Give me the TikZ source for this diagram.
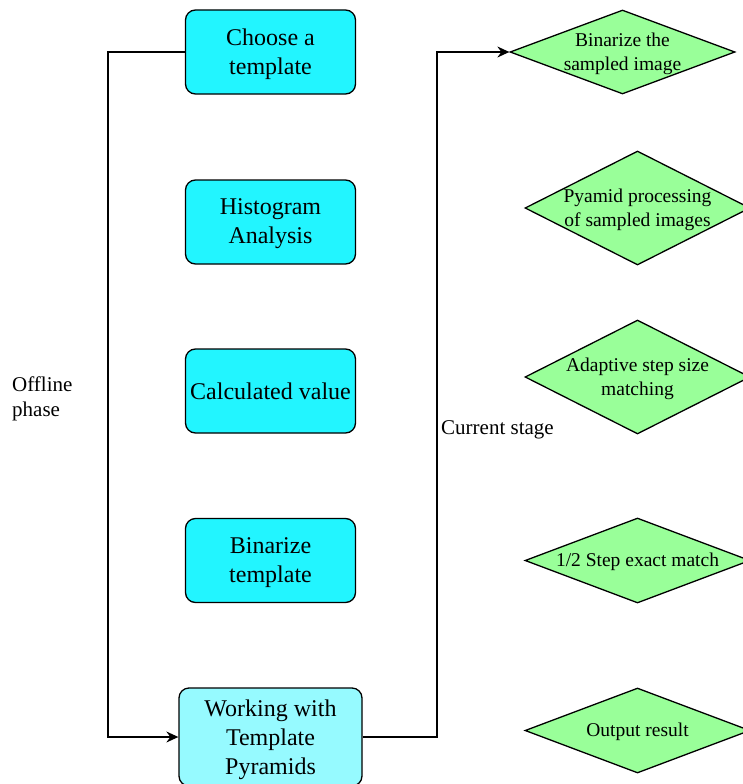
\documentclass[tikz,border=0pt]{standalone}
\usepackage{fontspec}
\setmainfont{Liberation Serif}
\usetikzlibrary{arrows.meta, positioning, shapes.geometric}
\definecolor{boxcyan}{HTML}{22F5FF}
\definecolor{boxpale}{HTML}{96FAFF}
\definecolor{diagreen}{HTML}{99FF99}

\begin{document}
\begin{tikzpicture}[>={Stealth[length=12pt, width=11pt, inset=4pt]}, x=1pt, y=-1pt,
  box/.style={draw, line width=1.3pt, rounded corners=10pt, fill=boxcyan,
              minimum width=170pt, minimum height=84pt},
  boxtext/.style={align=center, inner sep=0pt, font=\fontsize{24}{29}\selectfont},
  dia/.style={draw, line width=1.3pt, diamond, fill=diagreen,
              minimum width=225pt, inner sep=0pt},
  diatext/.style={align=center, inner sep=0pt, font=\fontsize{19.5}{24}\selectfont},
  lbl/.style={align=left, inner sep=0pt, font=\fontsize{21}{25}\selectfont}]
  \useasboundingbox (0,0) rectangle (743,784);

  % Offline phase boxes
  \node[box] (b1) at (270.5,52) {};
  \node[box] (b2) at (270.5,222) {};
  \node[box] (b3) at (270.5,391) {};
  \node[box] (b4) at (270.5,560.5) {};
  \node[box, fill=boxpale, minimum width=183pt, minimum height=98pt] (b5) at (270.5,737) {};
  \node[boxtext] (s1) at ([yshift=-2pt]b1) {Choose a\\template};
  \node[boxtext] (s2) at ([yshift=-2pt]b2) {Histogram\\Analysis};
  \node[boxtext] (s3) at (b3) {Calculated value};
  \node[boxtext] (s4) at ([yshift=-2pt]b4) {Binarize\\template};
  \node[boxtext] (s5) at ([yshift=-3pt]b5) {Working with\\Template\\Pyramids};

  % Current stage diamonds
  \node[dia, minimum height=84pt] (d1) at (622.5,52) {};
  \node[dia, minimum height=114pt] (d2) at (637.5,208) {};
  \node[dia, minimum height=114pt] (d3) at (637.5,377) {};
  \node[dia, minimum height=85pt] (d4) at (637.5,560.5) {};
  \node[dia, minimum height=85pt] (d5) at (637.5,730.5) {};
  \node[diatext] (t1) at ([yshift=-1.5pt]d1) {Binarize the\\sampled image};
  \node[diatext] (t2) at ([yshift=-1.5pt]d2) {Pyamid processing\\of sampled images};
  \node[diatext] (t3) at ([yshift=-1.5pt]d3) {Adaptive step size\\matching};
  \node[diatext] (t4) at ([yshift=-1.5pt]d4) {1/2 Step exact match};
  \node[diatext] (t5) at ([yshift=-1.5pt]d5) {Output result};

  % Labels
  \node[lbl, anchor=west] (offline) at (12,398.5) {Offline\\phase};
  \node[lbl, anchor=west] (current) at (441,430) {Current stage};

  % Connectors
  \coordinate (offl) at (108,0);
  \coordinate (cur) at (437,0);
  \draw[->, line width=1.3pt] (b1.west) -| (offl |- b5.west) -- (b5.west);
  \draw[->, line width=1.3pt] (b5.east) -| (cur |- d1.west) -- (d1.west);
\end{tikzpicture}
\end{document}
